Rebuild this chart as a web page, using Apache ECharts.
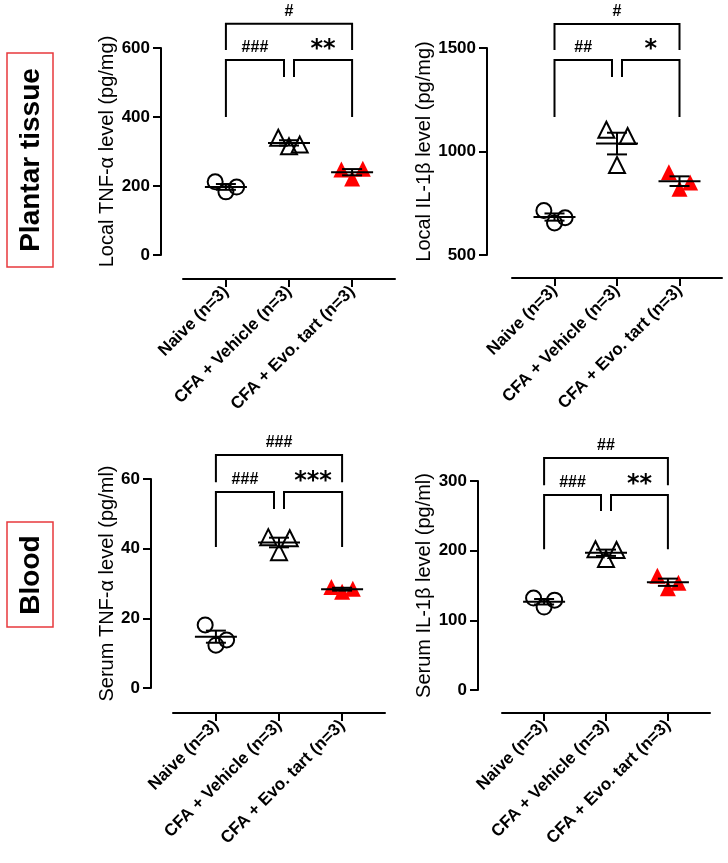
<!DOCTYPE html>
<html><head><meta charset="utf-8">
<script src="https://cdn.jsdelivr.net/npm/echarts@6/dist/echarts.min.js"></script>
<style>html,body{margin:0;padding:0;background:#fff}#c{width:728px;height:863px}</style>
</head><body><div id="c"></div>
<script>
// ---------------- data ----------------
const categories = ['Naive (n=3)', 'CFA + Vehicle (n=3)', 'CFA + Evo. tart (n=3)'];
// each group: 3 animals (left / centre / right point of the scatter)
const localTNF  = [[212, 183, 197], [340, 315, 320], [248, 222, 250]];
const localIL1b = [[715, 655, 680], [1105, 935, 1075], [900, 820, 850]];
const serumTNF  = [[18.1, 12.3, 13.8], [43.3, 39.0, 43.0], [29.0, 27.6, 28.5]];
const serumIL1b = [[132, 119, 129], [202, 188, 201], [164, 146, 154]];
// y axes: [min, max, interval]
const localTNFAxis  = [0, 600, 200];
const localIL1bAxis = [500, 1500, 500];
const serumTNFAxis  = [0, 60, 20];
const serumIL1bAxis = [0, 300, 100];
const yTitles = ['Local TNF-\u03b1 level (pg/mg)', 'Local IL-1\u03b2 level (pg/mg)',
                 'Serum TNF-\u03b1 level (pg/ml)', 'Serum IL-1\u03b2 level (pg/ml)'];
// significance brackets: [fromGroup, toGroup, barLevel, leftLegEnd, rightLegEnd, label]
const localTNFSig  = [[0, 2, 670, 594, 594, '#'], [0, 1, 565, 400, 516, '###'], [1, 2, 565, 516, 400, '**']];
const localIL1bSig = [[0, 2, 1616, 1490, 1490, '#'], [0, 1, 1442, 1167, 1360, '##'], [1, 2, 1442, 1360, 1167, '*']];
const serumTNFSig  = [[0, 2, 66.9, 59.1, 59.1, '###'], [0, 1, 56.3, 40.5, 51.4, '###'], [1, 2, 56.3, 51.4, 40.5, '***']];
const serumIL1bSig = [[0, 2, 333, 294, 294, '##'], [0, 1, 280, 202, 257, '###'], [1, 2, 280, 257, 202, '**']];
const sectionLabels = ['Plantar tissue', 'Blood'];

// ---------------- layout / style ----------------
const FONT = 'Liberation Sans, Arial, sans-serif';
const jitter = [-0.17, 0, 0.17];
const panels = [
  {vals: localTNF,  axis: localTNFAxis,  sig: localTNFSig,  grid: {left: 183, top: 48,  width: 212, height: 207}, yOff: 22, xOff: 24, nameGap: 44},
  {vals: localIL1b, axis: localIL1bAxis, sig: localIL1bSig, grid: {left: 512, top: 48,  width: 210, height: 207}, yOff: 25, xOff: 23, nameGap: 50},
  {vals: serumTNF,  axis: serumTNFAxis,  sig: serumTNFSig,  grid: {left: 173, top: 479, width: 212, height: 209}, yOff: 22, xOff: 25, nameGap: 33},
  {vals: serumIL1b, axis: serumIL1bAxis, sig: serumIL1bSig, grid: {left: 502, top: 481, width: 208, height: 209}, yOff: 24, xOff: 23, nameGap: 43}
];
const markers = [
  {symbol: 'circle',   size: 15, color: 'rgba(0,0,0,0)', border: '#000', bw: 2},
  {symbol: 'triangle', size: 16, color: 'rgba(0,0,0,0)', border: '#000', bw: 2},
  {symbol: 'triangle', size: 16, color: '#ff0000',       border: '#ff0000', bw: 0}
];

function mean(a) { return a.reduce((s, v) => s + v, 0) / a.length; }
function sem(a) { const m = mean(a); const sd = Math.sqrt(a.reduce((s, v) => s + (v - m) * (v - m), 0) / (a.length - 1)); return sd / Math.sqrt(a.length); }

const grids = [], xAxes = [], yAxes = [], series = [];
panels.forEach((p, i) => {
  grids.push(Object.assign({outerBoundsMode: 'none', containLabel: false}, p.grid));
  xAxes.push({
    type: 'value', gridIndex: i, min: -0.68, max: 2.68, offset: p.xOff,
    splitLine: {show: false},
    axisLine: {show: true, onZero: false, lineStyle: {color: '#000', width: 2}},
    axisTick: {show: true, customValues: [0, 1, 2], length: 8, lineStyle: {color: '#000', width: 2}},
    axisLabel: {customValues: [0, 1, 2], formatter: v => categories[Math.round(v)], rotate: 45, margin: 10,
      color: '#000', fontSize: 17, fontWeight: 'bold', fontFamily: FONT}
  });
  yAxes.push({
    type: 'value', gridIndex: i, min: p.axis[0], max: p.axis[1], interval: p.axis[2], offset: p.yOff,
    name: yTitles[i], nameLocation: 'middle', nameGap: p.nameGap, nameRotate: 90,
    nameTextStyle: {color: '#000', fontSize: 20, fontFamily: FONT},
    splitLine: {show: false},
    axisLine: {show: true, onZero: false, lineStyle: {color: '#000', width: 2}},
    axisTick: {show: true, length: 8, lineStyle: {color: '#000', width: 2}},
    axisLabel: {margin: 11, formatter: v => String(v), color: '#000', fontSize: 17, fontWeight: 'bold', fontFamily: FONT}
  });
  p.vals.forEach((g, gi) => {
    const m = markers[gi];
    series.push({
      type: 'scatter', xAxisIndex: i, yAxisIndex: i, clip: false, z: 3,
      symbol: m.symbol, symbolSize: m.size,
      itemStyle: {color: m.color, borderColor: m.border, borderWidth: m.bw, opacity: 1},
      emphasis: {disabled: true},
      data: g.map((v, k) => [gi + jitter[k], v])
    });
  });
  // mean +/- SEM
  series.push({
    type: 'custom', xAxisIndex: i, yAxisIndex: i, z: 5, clip: false,
    data: p.vals.map((g, gi) => [gi, mean(g), sem(g)]),
    renderItem: function (params, api) {
      const x = api.value(0), m = api.value(1), s = api.value(2);
      const c = api.coord([x, m]), hi = api.coord([x, m + s]), lo = api.coord([x, m - s]);
      const st = {stroke: '#000', lineWidth: 2};
      return {type: 'group', children: [
        {type: 'line', shape: {x1: c[0] - 21, y1: c[1], x2: c[0] + 21, y2: c[1]}, style: st},
        {type: 'line', shape: {x1: c[0], y1: hi[1], x2: c[0], y2: lo[1]}, style: st},
        {type: 'line', shape: {x1: c[0] - 10, y1: hi[1], x2: c[0] + 10, y2: hi[1]}, style: st},
        {type: 'line', shape: {x1: c[0] - 10, y1: lo[1], x2: c[0] + 10, y2: lo[1]}, style: st}
      ]};
    }
  });
  // significance brackets
  series.push({
    type: 'custom', xAxisIndex: i, yAxisIndex: i, z: 5, clip: false,
    data: p.sig.map(b => b.slice(0, 5)),
    renderItem: function (params, api) {
      const b = p.sig[params.dataIndex];
      const x1 = b[0], x2 = b[1];
      const pL = api.coord([x1, b[3]]), pT1 = api.coord([x1, b[2]]), pT2 = api.coord([x2, b[2]]), pR = api.coord([x2, b[4]]);
      const outer = (x2 - x1) > 1.5;
      const inL = (!outer && x1 === 1) ? 5 : 0;
      const inR = (!outer && x2 === 1) ? -5 : 0;
      const pts = [[pL[0] + inL, pL[1]], [pT1[0] + inL, pT1[1]], [pT2[0] + inR, pT2[1]], [pR[0] + inR, pR[1]]];
      const star = b[5].indexOf('*') >= 0;
      const mx = (pts[1][0] + pts[2][0]) / 2;
      return {type: 'group', children: [
        {type: 'polyline', shape: {points: pts}, style: {stroke: '#000', lineWidth: 2, fill: null}},
        {type: 'text', x: mx, y: star ? pT1[1] + 2 : pT1[1] - 4,
         style: {text: b[5], fill: '#000', align: 'center', verticalAlign: 'bottom',
                 fontSize: star ? 24 : 16, fontWeight: 'bold', fontFamily: star ? 'DejaVu Sans' : FONT}}
      ]};
    }
  });
});

const chart = echarts.init(document.getElementById('c'), null, {renderer: 'canvas'});
chart.setOption({
  animation: false,
  backgroundColor: '#fff',
  grid: grids, xAxis: xAxes, yAxis: yAxes, series: series,
  graphic: [
    {type: 'rect', shape: {x: 7, y: 53, width: 46, height: 214}, style: {fill: '#fff', stroke: '#e8383d', lineWidth: 1.5}},
    {type: 'text', x: 31, y: 160, rotation: Math.PI / 2,
     style: {text: sectionLabels[0], fill: '#000', fontSize: 28, fontWeight: 'bold', fontFamily: FONT, align: 'center', verticalAlign: 'middle'}},
    {type: 'rect', shape: {x: 7, y: 522, width: 46, height: 105}, style: {fill: '#fff', stroke: '#e8383d', lineWidth: 1.5}},
    {type: 'text', x: 31, y: 575, rotation: Math.PI / 2,
     style: {text: sectionLabels[1], fill: '#000', fontSize: 28, fontWeight: 'bold', fontFamily: FONT, align: 'center', verticalAlign: 'middle'}}
  ]
});
</script></body></html>
